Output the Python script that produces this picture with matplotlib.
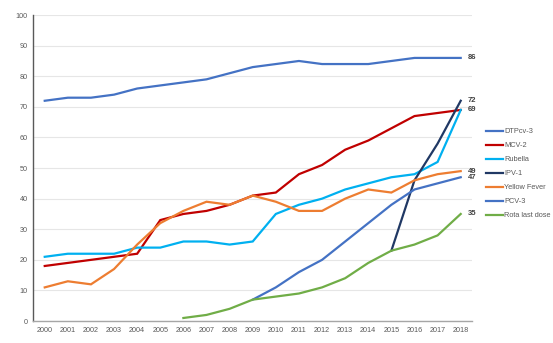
import matplotlib.pyplot as plt

plt.rcParams["font.family"] = ["Liberation Sans", "DejaVu Sans"]

years = list(range(2000, 2019))

dtp3 = [72, 73, 73, 74, 76, 77, 78, 79, 81, 83, 84, 85, 84, 84, 84, 85, 86, 86, 86]
mcv2 = [18, 19, 20, 21, 22, 33, 35, 36, 38, 41, 42, 48, 51, 56, 59, 63, 67, 68, 69]
rubella = [21, 22, 22, 22, 24, 24, 26, 26, 25, 26, 35, 38, 40, 43, 45, 47, 48, 52, 69]
ipv1_years = [2015, 2016, 2017, 2018]
ipv1 = [23, 46, 58, 72]
yellow_fever = [11, 13, 12, 17, 25, 32, 36, 39, 38, 41, 39, 36, 36, 40, 43, 42, 46, 48, 49]
pcv3_years = list(range(2009, 2019))
pcv3 = [7, 11, 16, 20, 26, 32, 38, 43, 45, 47]
rota_years = list(range(2006, 2019))
rota = [1, 2, 4, 7, 8, 9, 11, 14, 19, 23, 25, 28, 35]

series = [
    ("DTPcv-3", years, dtp3, "#4472C4"),
    ("MCV-2", years, mcv2, "#C00000"),
    ("Rubella", years, rubella, "#00B0F0"),
    ("IPV-1", ipv1_years, ipv1, "#203864"),
    ("Yellow Fever", years, yellow_fever, "#ED7D31"),
    ("PCV-3", pcv3_years, pcv3, "#4472C4"),
    ("Rota last dose", rota_years, rota, "#70AD47"),
]

fig = plt.figure(figsize=(5.53, 3.43), dpi=100)
ax = fig.add_axes([0.06, 0.064, 0.794, 0.892])

for name, xs, ys, color in series:
    ax.plot(xs, ys, color=color, lw=1.6, label=name, solid_joinstyle="miter")

# end-of-line value labels (Rubella shares 69 with MCV-2)
for name, xs, ys, color in series:
    if name == "Rubella":
        continue
    ax.annotate(str(ys[-1]), (xs[-1], ys[-1]), xytext=(5, 0), textcoords="offset points",
                va="center", ha="left", fontsize=5.5, fontweight="bold", color="#404040")

ax.set_xlim(1999.5, 2018.5)
ax.set_ylim(0, 100)
ax.set_xticks(years)
ax.set_yticks(range(0, 101, 10))
ax.tick_params(labelsize=5.2, colors="#595959", length=0, pad=4)
ax.grid(axis="y", color="#e6e6e6", lw=0.8)
ax.set_axisbelow(True)
for s in ["top", "right"]:
    ax.spines[s].set_visible(False)
ax.spines["left"].set_color("#595959")
ax.spines["left"].set_linewidth(1.0)
ax.spines["bottom"].set_color("#a6a6a6")
ax.spines["bottom"].set_linewidth(1.0)

ax.legend(loc="upper left", bbox_to_anchor=(1.024, 0.643), frameon=False,
          fontsize=5.3, labelcolor="#595959", handlelength=2.2, handletextpad=0.2,
          labelspacing=0.93, borderpad=0)

fig.savefig("out.png", dpi=100)
